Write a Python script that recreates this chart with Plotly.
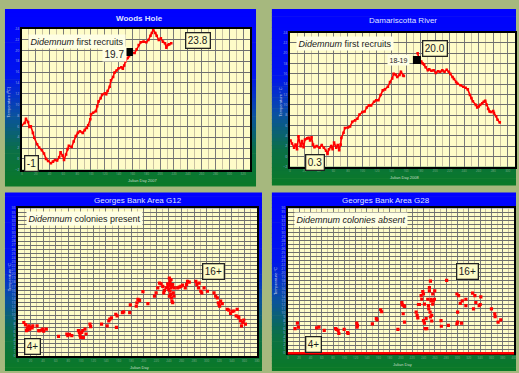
import plotly.graph_objects as go

W, H = 519, 373

# ---------------- DATA ----------------
# Woods Hole 2007 (Julian day, temperature C)
wh_day = [0, 4, 6, 9, 11, 13, 16, 18, 22, 25, 29, 32, 35, 38, 42, 45, 48, 51, 54, 56, 59, 61,
          64, 66, 68, 72, 75, 78, 81, 84, 88, 91, 94, 96, 99, 100, 103, 107, 109, 111, 114, 116,
          120, 122, 124, 127, 129, 132, 134, 137, 140, 144, 146, 148, 150, 153, 155, 159, 163,
          166, 169, 172, 176, 180, 183, 186, 188, 190, 193, 195, 198, 201, 204, 207, 209, 211,
          213, 216]
wh_temp = [6.2, 6.6, 7.4, 6.8, 5.9, 6.0, 4.8, 3.9, 2.7, 2.1, 1.6, 1.0, 0.0, -0.4, -0.8, -0.5,
           -0.2, -0.3, 0.3, 1.2, 0.6, -0.2, 0.8, 1.8, 2.4, 2.2, 3.2, 4.2, 4.8, 5.1, 4.8, 5.3, 5.7,
           6.2, 7.3, 8.2, 8.5, 8.8, 9.7, 10.6, 11.2, 11.8, 12.1, 11.9, 12.5, 13.3, 14.5, 15.1,
           15.9, 16.3, 16.7, 16.9, 16.6, 17.2, 18.0, 18.6, 18.9, 19.6, 19.5, 20.2, 21.0, 21.5,
           21.6, 21.5, 21.9, 22.7, 23.2, 23.8, 23.2, 22.7, 21.9, 22.2, 21.6, 21.3, 20.5, 21.0,
           21.1, 21.3]
wh_recruit_day = [155]
wh_recruit_temp = [19.7]

# Damariscotta River 2008 (None = gap in record)
dr_day = [1, 3, 6, 8, 10, 12, 15, 17, 19, 21, 24, 26, 28, 30, 32, 34, 37, 41, 44, 47, 50, 52,
          54, 57, 59, 61, 64, 66, 68, 70, 71, 74, 76, 80, 83, 86, 90, 93, 96, 100, 103, 106,
          109, 112, 116, 119, 122, 125, 128, 131, 135, 138, 141, 143, 146, 148, 151, 153, 156,
          157, None, 176, 178, 181, 183, 185, 187, 190, 192, 195, 198, 201, 204, 207, 210, 213,
          216, 219, 221, 224, 226, 229, 231, 235, 239, 242, 245, 248, 250, 252, 256, 258, 260,
          262, 265, 267, 269, 271, 273, 275, 277, 280, 281, 284, 286, 289]
dr_temp = [3.1, 2.5, 1.7, 2.3, 1.4, 3.9, 2.0, 3.0, 1.8, 3.3, 3.5, 3.6, 3.1, 3.7, 2.3, 1.8, 2.0,
           1.7, 2.2, 1.7, 1.1, 0.5, 1.4, 2.0, 1.4, 2.7, 1.7, 2.2, 1.2, 2.3, 3.6, 4.6, 5.5, 5.6,
           5.8, 6.7, 7.0, 7.3, 8.1, 8.6, 8.7, 9.5, 9.9, 9.9, 10.6, 10.9, 10.9, 11.9, 12.8, 13.0,
           13.5, 14.4, 15.1, 16.0, 15.8, 15.4, 15.8, 16.4, 15.7, 15.6, None, 20.0, 18.9, 18.4,
           18.0, 17.8, 17.3, 16.7, 16.9, 16.6, 16.7, 16.2, 16.5, 16.4, 16.7, 16.4, 16.8, 16.4,
           16.0, 15.4, 15.0, 14.4, 14.1, 13.8, 13.5, 13.3, 13.0, 11.9, 11.3, 10.7, 10.0, 9.5,
           9.7, 10.0, 10.3, 10.6, 10.8, 10.0, 9.2, 8.7, 8.6, 8.8, 8.4, 7.8, 7.1, 6.6]
dr_recruit_day = [175]
dr_recruit_temp = [18.7]

# Georges Bank Area G12 (colonies present)
g12_day = [9.5, 12.1, 13.7, 14.7, 15.8, 17.3, 18.9, 21.0, 22.6, 23.7, 30.5, 33.1, 34.7, 38.4,
           39.9, 41.0, 45.2, 64.6, 77.8, 79.4, 82.0, 85.7, 96.2, 97.8, 98.8, 99.9, 101.4, 103.0,
           104.1, 106.7, 108.3, 114.6, 115.6, 133.0, 141.9, 144.5, 146.1, 148.7, 155.6, 156.6,
           157.7, 166.1, 168.2, 177.7, 178.7, 188.2, 189.2, 190.8, 193.4, 198.7, 206.6, 217.1,
           219.7, 222.3, 225.0, 227.6, 230.2, 231.8, 232.8, 235.5, 238.1, 240.7, 241.8, 242.3,
           243.4, 241.8, 242.8, 243.9, 244.9, 246.0, 239.7, 244.9, 247.0, 248.1, 238.6, 240.7,
           243.4, 246.0, 248.6, 253.9, 256.5, 259.1, 261.7, 266.0, 268.1, 269.6, 272.3, 282.8,
           284.3, 287.0, 288.0, 290.7, 292.2, 295.9, 301.2, 311.7, 314.3, 316.9, 318.5, 319.6,
           320.6, 322.2, 324.8, 332.7, 335.3, 338.0, 340.6, 343.2, 346.9, 348.5, 350.0, 351.1,
           353.7, 355.3, 357.4, 359.0, 361.6]
g12_temp = [8.2, 7.7, 6.2, 6.9, 6.4, 7.4, 6.6, 7.0, 6.9, 7.4, 7.4, 6.2, 6.2, 6.4, 6.6, 6.1, 6.6,
            4.8, 5.4, 5.0, 5.3, 5.0, 6.2, 5.8, 5.0, 4.6, 5.8, 6.2, 4.5, 6.6, 5.4, 7.8, 7.2, 7.8,
            7.4, 8.6, 9.0, 9.3, 10.2, 7.0, 9.8, 10.6, 10.8, 10.6, 12.5, 12.2, 13.0, 13.8, 13.6,
            15.7, 12.8, 14.6, 15.4, 16.6, 17.8, 17.6, 17.0, 15.4, 16.0, 16.6, 17.6, 19.0, 18.2,
            17.4, 16.6, 15.8, 15.0, 14.2, 13.4, 13.0, 16.2, 17.0, 15.4, 14.6, 17.0, 14.6, 18.6,
            17.4, 16.6, 16.6, 16.8, 17.0, 17.3, 16.6, 17.4, 18.2, 18.0, 18.2, 17.4, 16.6, 17.8,
            15.8, 15.4, 16.6, 15.8, 15.4, 14.6, 14.2, 13.0, 12.6, 12.2, 13.4, 12.8, 11.4, 11.2,
            10.4, 10.9, 11.0, 9.8, 11.4, 9.6, 9.4, 8.6, 7.4, 8.2, 8.8, 7.8]

# Georges Bank Area G28 (colonies absent)
g28_day = [12.9, 17.0, 18.8, 51.0, 55.1, 64.5, 84.5, 86.2, 89.1, 90.3, 99.7, 105.6, 106.7,
           122.0, 122.6, 123.2, 149.6, 156.6, 157.8, 164.2, 166.0, 194.7, 201.8, 202.3, 204.1,
           205.3, 206.4, 206.4, 227.0, 228.7, 229.9, 231.1, 232.8, 235.8, 236.9, 238.7, 239.9,
           239.9, 241.6, 241.6, 242.8, 244.6, 245.7, 247.5, 248.7, 249.3, 250.4, 250.4, 251.6,
           252.2, 253.4, 253.4, 254.5, 254.5, 256.3, 256.3, 257.5, 259.2, 259.8, 252.2, 271.0,
           271.5, 280.9, 283.9, 299.1, 299.1, 300.3, 300.3, 302.0, 305.0, 307.3, 308.5, 314.9,
           314.9, 326.7, 328.4, 330.8, 332.5, 338.4, 340.2, 341.3, 360.1, 366.0, 366.6, 371.8,
           376.5]
g28_temp = [6.1, 7.5, 6.5, 6.3, 6.5, 5.7, 6.1, 5.9, 5.7, 4.9, 5.9, 5.1, 4.9, 7.5, 6.5, 6.9, 7.3,
            8.6, 8.3, 10.8, 10.3, 5.9, 12.6, 12.0, 9.8, 11.8, 11.6, 7.7, 10.2, 9.4, 8.8, 12.1,
            12.1, 14.3, 13.4, 15.3, 14.7, 8.1, 7.5, 12.2, 6.1, 8.6, 6.1, 13.4, 11.8, 11.0, 16.3,
            15.5, 10.2, 9.0, 13.0, 13.4, 9.4, 8.0, 14.7, 12.2, 13.0, 13.4, 15.5, 17.9, 8.1, 6.7,
            18.1, 6.9, 14.7, 7.3, 10.2, 7.7, 14.3, 12.4, 7.5, 13.0, 13.4, 11.8, 14.9, 11.0, 14.3,
            12.6, 11.8, 12.1, 14.0, 11.0, 9.8, 9.1, 7.7, 8.3]

titles = ["Woods Hole", "Damariscotta River", "Georges Bank Area G12", "Georges Bank Area G28"]
xtitles = ["Julian Day 2007", "Julian Day 2008", "Julian Day", "Julian Day"]
ytitles = ["Temperature (ºC)", "Temperature ° C", "Temperature °C", "Temperature °C"]

# ---------------- LAYOUT HELPERS ----------------
def px(x):
    return x / W

def py(y):
    return 1 - y / H

PLOT_BG = "#fefcc8"
BOX_BG = "#fefee4"
RED = "#ff0000"

# panel rectangles (pixels) and plot areas (pixels)
panels = [(4, 257, 6, 186), (273, 519, 6, 185), (4, 263, 192, 373), (273, 519, 192, 373)]
plots = [(21, 251, 26, 169), (291, 518, 30, 166), (17, 258, 208, 358), (289, 517, 208, 355)]

stops = [(0.0, (0, 0, 255)), (0.38, (0, 20, 238)), (0.6, (10, 82, 160)),
         (0.8, (10, 112, 70)), (1.0, (10, 122, 38))]

def grad(t):
    for (a, ca), (b, cb) in zip(stops[:-1], stops[1:]):
        if a <= t <= b:
            f = (t - a) / (b - a)
            c = [round(ca[i] + (cb[i] - ca[i]) * f) for i in range(3)]
            return "rgb(%d,%d,%d)" % tuple(c)
    return "rgb(10,122,38)"

shapes = []
N = 48
for (x0, x1, y0, y1) in panels:
    h = (y1 - y0) / N
    for i in range(N):
        ya = y0 + i * h
        yb = ya + h + 0.6
        shapes.append(dict(type="rect", xref="paper", yref="paper", layer="below",
                           x0=px(x0), x1=px(x1), y0=py(min(yb, y1)), y1=py(ya),
                           fillcolor=grad((i + 0.5) / N), line=dict(width=0)))

axis_suffix = ["", "2", "3", "4"]
for k, s in enumerate(axis_suffix):
    shapes.append(dict(type="rect", xref="x%s domain" % s, yref="y%s domain" % s, layer="below",
                       x0=0, x1=1, y0=0, y1=1, fillcolor=PLOT_BG, line=dict(width=0)))

# red bottom line in G28 panel
shapes.append(dict(type="line", xref="x4 domain", yref="y4 domain", x0=0, x1=1, y0=0, y1=0,
                   line=dict(color=RED, width=2.5), layer="above"))

fig = go.Figure()

def line_trace(x, y, ax):
    return go.Scatter(x=x, y=y, mode="lines+markers", connectgaps=False,
                      line=dict(color=RED, width=1.6),
                      marker=dict(color=RED, size=2.6, symbol="square"),
                      xaxis="x" + ax, yaxis="y" + ax, showlegend=False, hoverinfo="skip")

def dot_trace(x, y, ax):
    return go.Scatter(x=x, y=y, mode="markers",
                      marker=dict(color=RED, size=3.2, symbol="square"),
                      xaxis="x" + ax, yaxis="y" + ax, showlegend=False, hoverinfo="skip")

def mark_trace(x, y, ax):
    return go.Scatter(x=x, y=y, mode="markers",
                      marker=dict(color="black", size=8, symbol="square"),
                      xaxis="x" + ax, yaxis="y" + ax, showlegend=False, hoverinfo="skip")

fig.add_trace(line_trace(wh_day, wh_temp, ""))
fig.add_trace(mark_trace(wh_recruit_day, wh_recruit_temp, ""))
fig.add_trace(line_trace(dr_day, dr_temp, "2"))
fig.add_trace(mark_trace(dr_recruit_day, dr_recruit_temp, "2"))
fig.add_trace(dot_trace(g12_day, g12_temp, "3"))
fig.add_trace(dot_trace(g28_day, g28_temp, "4"))

xranges = [[0, 330], [0, 310], [0, 380], [0, 400]]
yranges = [[-2, 24], [-2, 24], [0, 36], [0, 36]]
ydticks = [2, 2, 1, 1]

layout = dict(width=W, height=H, margin=dict(l=0, r=0, t=0, b=0),
              paper_bgcolor="#a6b87e", plot_bgcolor=PLOT_BG, showlegend=False,
              shapes=shapes, annotations=[])

for k, s in enumerate(axis_suffix):
    x0, x1, y0, y1 = plots[k]
    layout["xaxis" + s] = dict(domain=[px(x0), px(x1)], range=xranges[k], anchor="y" + s,
                               dtick=20, tick0=0, showgrid=True, gridcolor="#7a7a7a",
                               gridwidth=1,
                               minor=dict(dtick=10, showgrid=True, gridcolor="#c9c2a2",
                                          gridwidth=1.2),
                               showline=True, linecolor="black", linewidth=1.5, mirror=True,
                               ticks="", showticklabels=True,
                               tickfont=dict(size=3, color="#7fae8a"),
                               zeroline=False, fixedrange=True)
    layout["yaxis" + s] = dict(domain=[py(y1), py(y0)], range=yranges[k], anchor="x" + s,
                               dtick=ydticks[k], tick0=0, showgrid=True, gridcolor="#6e6e6e",
                               gridwidth=1, showline=True, linecolor="black", linewidth=1.5,
                               mirror=True, ticks="", showticklabels=True,
                               tickfont=dict(size=3.5, color="#9fa8e0"),
                               zeroline=False, fixedrange=True)

ann = layout["annotations"]
FONT = "Liberation Sans, Arial, sans-serif"

# titles
title_pos = [(140, 16, True), (405, 18, False), (138, 200, False), (388, 200, False)]
for t, (x, y, b) in zip(titles, title_pos):
    ann.append(dict(text=("<b>%s</b>" % t) if b else t, x=px(x), y=py(y), xref="paper",
                    yref="paper", xanchor="center", yanchor="middle", showarrow=False,
                    font=dict(family=FONT, size=8, color="#dfe2ff")))
# x titles
xt_pos = [(143, 180), (407, 177), (140, 369), (405, 366)]
for t, (x, y) in zip(xtitles, xt_pos):
    ann.append(dict(text=t, x=px(x), y=py(y), xref="paper", yref="paper", showarrow=False,
                    xanchor="center", yanchor="middle",
                    font=dict(family=FONT, size=4, color="#c8dcc8")))
# y titles
yt_pos = [(8, 100), (282, 100), (8, 278), (276, 282)]
for t, (x, y) in zip(ytitles, yt_pos):
    ann.append(dict(text=t, x=px(x), y=py(y), xref="paper", yref="paper", showarrow=False,
                    textangle=-90, xanchor="center", yanchor="middle",
                    font=dict(family=FONT, size=4, color="#c8d0f0")))

def label(text, x, y, size=9, border=False):
    d = dict(text=text, x=px(x), y=py(y), xref="paper", yref="paper", showarrow=False,
             xanchor="left", yanchor="top", borderpad=1.5,
             font=dict(family=FONT, size=size, color="#1a1a1a"),
             bgcolor=PLOT_BG if border else BOX_BG)
    if border:
        d.update(bordercolor="#222222", borderwidth=1.3)
    ann.append(d)

# Woods Hole
label("<i>Didemnum</i> first recruits", 27, 31, 9)
label("19.7", 102, 44, 10)
label("23.8", 185, 29, 10, True)
label("-1", 23, 154, 10, True)
# Damariscotta
label("<i>Didemnum</i> first recruits", 297, 33, 9)
label("18-19", 389, 52, 7)
label("20.0", 424, 38, 10, True)
label("0.3", 306, 153, 10, True)
# G12
label("<i>Didemnum</i> colonies present", 25, 211, 9)
label("16+", 203, 264, 10, True)
label("4+", 23, 340, 10, True)
# G28
label("<i>Didemnum colonies absent</i>", 295, 212, 9)
label("16+", 459, 264, 10, True)
label("4+", 306, 338, 10, True)

fig.update_layout(**layout)
fig.write_html("out.html")
